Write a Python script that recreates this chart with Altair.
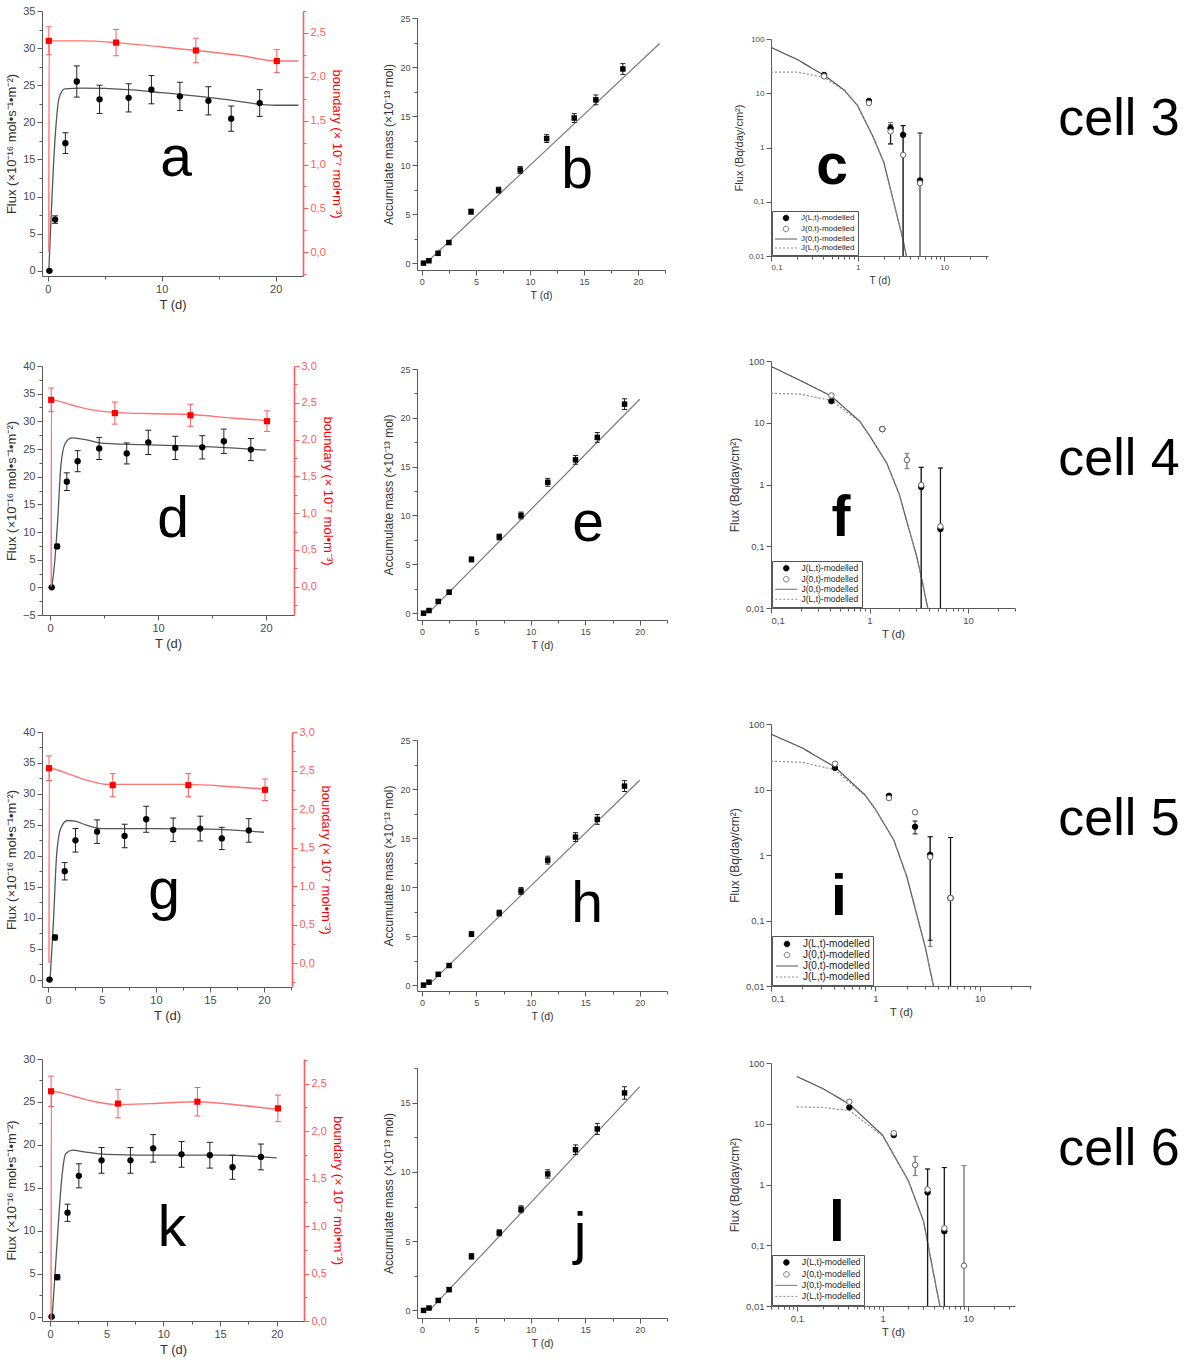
import json
import altair as alt
import pandas as pd

SANS = "Liberation Sans"

INK = "#000000"
AXIS_GREY = "#5a5a5a"
LABEL_GREY = "#4a4a4a"
TITLE_GREY = "#333333"
FIT_GREY = "#555555"
MASS_LINE = "#7a7a7a"
RED = "#ff0000"
RED_FIT = "#ff7373"
RED_AXIS = "#ff5c5c"

# ---------------- sampling times (d) ----------------
t_flux = [0.15, 0.65, 1.55, 2.55, 4.55, 7.1, 9.1, 11.6, 14.1, 16.1, 18.6]
t_bnd = [0.1, 6.0, 13.0, 20.1]
t_mass = [0.15, 0.65, 1.5, 2.5, 4.55, 7.1, 9.1, 11.55, 14.1, 16.1, 18.6]
t_log = [0.41, 1.35, 2.4, 3.35, 5.25]
t_log6 = [0.41, 1.35, 2.4, 3.35, 5.25, 8.9]

# ---------------- cell 3 ----------------
flux3 = [0, 6.9, 17.2, 25.5, 23.1, 23.3, 24.4, 23.5, 22.9, 20.5, 22.6]
flux3_err = [0, 0.5, 1.4, 2.1, 1.9, 1.9, 1.9, 1.9, 1.9, 1.7, 1.8]
fit3_t = [0.1, 0.25, 0.5, 0.7, 1.0, 1.5, 3, 7, 10, 15, 20, 22]
fit3 = [0, 5.5, 14, 19, 23.3, 24.5, 24.6, 24.4, 24.0, 23.2, 22.3, 22.3]
bnd3 = [2.41, 2.39, 2.30, 2.18]
bnd3_err = [0.16, 0.15, 0.14, 0.13]
bfit3_t = [0.1, 0.12, 3, 6, 10, 13, 17, 20, 22]
bfit3 = [0.0, 2.41, 2.41, 2.39, 2.34, 2.30, 2.24, 2.18, 2.18]
mass3 = [0, 0.24, 1.0, 2.1, 5.25, 7.45, 9.5, 12.7, 14.8, 16.65, 19.8]
mass3_err = [0.1, 0.1, 0.2, 0.2, 0.25, 0.3, 0.35, 0.4, 0.45, 0.5, 0.55]
mline3_t = [0.6, 22.0]
mline3 = [0.23, 22.4]
jl3 = [21.7, 7.2, 2.27, 1.71, 0.247]
jl3_hi = [None, None, 2.6, 2.55, 1.85]
jl3_lo = [None, None, 1.17, 0.001, 0.001]
j03 = [20.5, 6.6, 1.97, 0.73, 0.22]
j03_hi = [None, None, 2.9, 2.5, None]
j03_lo = [None, None, 1.15, 0.001, None]
mod3_t = [0.1, 0.2, 0.41, 0.7, 1.0, 1.5, 2.0, 3.0, 3.3, 3.65]
j0mod3 = [70, 42, 21.5, 11.5, 5.9, 1.6, 0.54, 0.04, 0.022, 0.01]
jlmod3 = [24.5, 24.5, 19.7, 11.2, 5.9, 1.6, 0.54, 0.04, 0.022, 0.01]

# ---------------- cell 4 ----------------
flux4 = [0, 7.4, 19.1, 22.8, 25.1, 24.2, 26.2, 25.2, 25.3, 26.4, 24.9]
flux4_err = [0, 0.4, 1.6, 1.9, 2.0, 1.9, 2.2, 2.1, 2.1, 2.2, 2.0]
fit4_t = [0.15, 0.4, 0.7, 1.0, 1.4, 2.0, 3, 5, 10, 15, 20]
fit4 = [0, 4, 12, 22, 26, 27, 26.8, 26, 25.7, 25.4, 24.8]
bnd4 = [2.54, 2.36, 2.33, 2.25]
bnd4_err = [0.16, 0.15, 0.15, 0.14]
bfit4_t = [0.1, 0.12, 2, 4, 6, 10, 13, 17, 20]
bfit4 = [0.0, 2.54, 2.47, 2.40, 2.37, 2.35, 2.34, 2.29, 2.26]
mass4 = [0, 0.27, 1.2, 2.15, 5.5, 7.8, 10.0, 13.4, 15.7, 18.0, 21.4]
mass4_err = [0.1, 0.1, 0.2, 0.2, 0.25, 0.3, 0.35, 0.4, 0.45, 0.5, 0.55]
mline4_t = [0.6, 20.0]
mline4 = [0.0, 21.9]
jl4 = [22.4, 7.9, None, 0.91, 0.19]
jl4_hi = [None, None, None, 1.9, 1.85]
jl4_lo = [None, None, None, 0.001, 0.001]
j04 = [27.7, 7.9, 2.5, 0.98, 0.21]
j04_hi = [None, None, 3.2, 1.9, 1.85]
j04_lo = [None, None, 1.8, 0.001, 0.001]
mod4_t = [0.1, 0.2, 0.41, 0.8, 1.0, 1.5, 2.0, 3.0, 3.3, 3.9]
j0mod4 = [82, 48, 27, 10.5, 6.2, 2.2, 0.7, 0.07, 0.036, 0.01]
jlmod4 = [30, 29, 23, 10.3, 6.2, 2.2, 0.7, 0.07, 0.036, 0.01]

# ---------------- cell 5 ----------------
flux5 = [0, 6.8, 17.5, 22.5, 23.9, 23.2, 25.9, 24.2, 24.4, 22.8, 24.1]
flux5_err = [0, 0.4, 1.4, 1.9, 1.9, 1.9, 2.1, 1.9, 2.0, 1.8, 1.9]
fit5_t = [0.2, 0.5, 0.8, 1.2, 1.8, 2.5, 3.5, 5, 10, 15, 20]
fit5 = [0, 9, 20, 24.5, 25.7, 25.6, 25, 24.4, 24.4, 24.3, 23.8]
bnd5 = [2.53, 2.31, 2.31, 2.25]
bnd5_err = [0.16, 0.15, 0.15, 0.14]
bfit5_t = [0.1, 0.12, 2, 4, 5.5, 8, 13, 17, 20]
bfit5 = [0.0, 2.53, 2.45, 2.36, 2.32, 2.32, 2.32, 2.29, 2.26]
mass5 = [0, 0.3, 1.1, 2.0, 5.2, 7.35, 9.6, 12.75, 15.1, 16.9, 20.3]
mass5_err = [0.1, 0.1, 0.2, 0.2, 0.25, 0.3, 0.35, 0.4, 0.45, 0.5, 0.55]
mline5_t = [0.6, 20.0]
mline5 = [0.0, 20.9]
jl5 = [21.4, 8.0, 2.7, 1.01, 0.22]
jl5_hi = [None, None, 3.3, 1.9, 1.85]
jl5_lo = [None, None, 2.1, 0.05, 0.001]
j05 = [24.7, 7.4, 4.5, 0.93, 0.22]
j05_hi = [None, None, None, 1.9, 1.85]
j05_lo = [None, None, None, 0.04, 0.001]
mod5_t = [0.1, 0.2, 0.41, 0.8, 1.0, 1.5, 2.0, 3.0, 3.6]
j0mod5 = [70, 43, 22, 8.2, 5.0, 1.7, 0.47, 0.04, 0.01]
jlmod5 = [27, 26, 20, 8.0, 5.0, 1.7, 0.47, 0.04, 0.01]

# ---------------- cell 6 ----------------
flux6 = [0, 4.6, 12.1, 16.4, 18.2, 18.2, 19.6, 18.9, 18.8, 17.4, 18.6]
flux6_err = [0, 0.3, 1.0, 1.4, 1.5, 1.5, 1.6, 1.5, 1.5, 1.4, 1.5]
fit6_t = [0.2, 0.45, 0.7, 1.0, 1.4, 2.0, 3, 5, 10, 15, 20]
fit6 = [0, 5, 10, 15.5, 19, 19.4, 19.2, 18.9, 18.8, 18.8, 18.5]
bnd6 = [2.42, 2.29, 2.31, 2.24]
bnd6_err = [0.16, 0.15, 0.15, 0.14]
bfit6_t = [0.1, 0.12, 2, 4, 6, 9, 13, 17, 20]
bfit6 = [0.0, 2.42, 2.37, 2.31, 2.28, 2.29, 2.31, 2.27, 2.23]
mass6 = [0, 0.17, 0.72, 1.5, 3.9, 5.6, 7.3, 9.85, 11.6, 13.1, 15.7]
mass6_err = [0.08, 0.08, 0.12, 0.15, 0.2, 0.22, 0.25, 0.3, 0.35, 0.4, 0.45]
mline6_t = [0.7, 20.0]
mline6 = [0.0, 16.15]
jl6 = [18.6, 6.5, None, 0.74, 0.17, None]
jl6_hi = [None, None, None, 1.8, 1.9, None]
jl6_lo = [None, None, None, 0.001, 0.001, None]
j06 = [23.0, 7.0, 2.1, 0.83, 0.19, 0.046]
j06_hi = [None, None, 2.9, 1.8, 1.9, 2.05]
j06_lo = [None, None, 1.4, 0.001, 0.001, 0.001]
mod6_t = [0.1, 0.2, 0.41, 1.0, 2.0, 3.0, 3.4, 4.0, 4.66]
j0mod6 = [60, 38, 21, 6.5, 1.15, 0.25, 0.1, 0.03, 0.01]
jlmod6 = [19, 18.5, 16.5, 6.3, 1.15, 0.25, 0.1, 0.03, 0.01]

cells = ["cell 3", "cell 4", "cell 5", "cell 6"]

SERIES = ["J(L,t) data", "J(0,t) data", "J(0,t) model", "J(L,t) model"]
LEGEND_LABEL = "replace(replace(datum.label, ' data', '-modelled'), ' model', '-modelled')"
COMMA = "replace(toString(datum.value), '.', ',')"
COMMA1 = "replace(format(datum.value, '.1f'), '.', ',')"
OWN = dict(fill="independent", stroke="independent", shape="independent",
           strokeDash="independent")

LOG_MAJOR = [0.01, 0.1, 1, 10, 100]
LOG_MINOR = [round(m * 10 ** p, 4) for p in (-2, -1, 0, 1) for m in range(2, 10)]


def axis_style(lab, tit, **extra):
    sty = dict(grid=False, labelFont=SANS, titleFont=SANS, labelFontSize=lab, titleFontSize=tit,
               labelColor=LABEL_GREY, titleColor=TITLE_GREY, titleFontWeight="normal",
               domainColor=AXIS_GREY, tickColor=AXIS_GREY, labelPadding=2, titlePadding=4,
               labelOverlap=False)
    sty.update(extra)
    return sty


def mids(major, dom):
    """Minor tick positions halfway between (and just beyond) the labelled ticks."""
    step = major[1] - major[0]
    cand = [major[0] - step / 2] + [m + step / 2 for m in major]
    return [v for v in cand if min(dom) <= v <= max(dom)]


def tick_axis(major, minor, sty, label="datum.label", **kw):
    test = f"indexof({json.dumps(major)}, datum.value) >= 0"
    return alt.Axis(values=sorted(major + minor), labelExpr=f"{test} ? {label} : ''",
                    tickSize={"condition": {"test": test, "value": 5}, "value": 3},
                    **sty, **kw)


def letter_layer(letter, lx, ly, bold=False):
    return alt.Chart(pd.DataFrame({"letter": [letter]})).mark_text(
        font=SANS, fontSize=57, fontWeight="bold" if bold else "normal",
        align="center", baseline="alphabetic", color=INK,
    ).encode(text="letter:N", x=alt.value(lx), y=alt.value(ly))


def error_layers(df, X, Y, color, cap=6, width=1.0):
    rule = alt.Chart(df).mark_rule(color=color, strokeWidth=width, clip=True).encode(
        x=X, y=Y("lo"), y2=alt.Y2("hi:Q"))
    lo = alt.Chart(df).mark_tick(color=color, orient="horizontal", size=cap, thickness=1,
                                 opacity=1, clip=True).encode(x=X, y=Y("lo"))
    hi = alt.Chart(df).mark_tick(color=color, orient="horizontal", size=cap, thickness=1,
                                 opacity=1, clip=True).encode(x=X, y=Y("hi"))
    return [rule, lo, hi]


def flux_panel(flux, ferr, fit_t, fit, bnd, berr, bfit_t, bfit, xdom, xvals, ydom, yvals,
               rdom, rvals, w, h, letter, lx, ly):
    sty = axis_style(11, 13)
    X = alt.X("t:Q", scale=alt.Scale(domain=xdom, nice=False, zero=False),
              axis=tick_axis(xvals, mids(xvals, xdom), sty, title="T (d)"))
    lscale = alt.Scale(domain=ydom, nice=False, zero=False)
    laxis = tick_axis(yvals, mids(yvals, ydom), sty, title="Flux (×10⁻¹⁶ mol•s⁻¹•m⁻²)")

    def YL(f):
        return alt.Y(f"{f}:Q", scale=lscale, axis=laxis)

    rscale = alt.Scale(domain=rdom, nice=False, zero=False)
    raxis = tick_axis(rvals, mids(rvals, rdom),
                      axis_style(11, 13, labelColor=RED_AXIS, titleColor=RED,
                                 domainColor=RED_AXIS, tickColor=RED_AXIS, domainWidth=1.6),
                      label=COMMA1, orient="right", title="boundary (× 10⁻⁷ mol•m⁻³)")

    def YR(f):
        return alt.Y(f"{f}:Q", scale=rscale, axis=raxis)

    pts = pd.DataFrame({"t": t_flux, "v": flux,
                        "lo": [v - e for v, e in zip(flux, ferr)],
                        "hi": [v + e for v, e in zip(flux, ferr)]})
    fitdf = pd.DataFrame({"t": fit_t, "v": fit})
    rpts = pd.DataFrame({"t": t_bnd, "v": bnd,
                         "lo": [v - e for v, e in zip(bnd, berr)],
                         "hi": [v + e for v, e in zip(bnd, berr)]})
    rfitdf = pd.DataFrame({"t": bfit_t, "v": bfit})

    black = alt.layer(
        alt.Chart(fitdf).mark_line(color=FIT_GREY, strokeWidth=1.3, interpolate="monotone").encode(
            x=X, y=YL("v")),
        *error_layers(pts, X, YL, "#222222"),
        alt.Chart(pts).mark_point(filled=True, shape="circle", size=40, color=INK, opacity=1).encode(
            x=X, y=YL("v")),
    )
    red = alt.layer(
        alt.Chart(rfitdf).mark_line(color=RED_FIT, strokeWidth=1.4, interpolate="monotone").encode(
            x=X, y=YR("v")),
        *error_layers(rpts, X, YR, RED_AXIS),
        alt.Chart(rpts).mark_square(size=38, color=RED, opacity=1).encode(x=X, y=YR("v")),
    )
    return alt.layer(black, red, letter_layer(letter, lx, ly)).resolve_scale(
        y="independent").properties(width=w, height=h)


def mass_panel(mass, merr, line_t, line_v, ydom, yvals, w, h, letter, lx, ly):
    xdom = [-0.45, 22.5]
    xvals = [0, 5, 10, 15, 20]
    X = alt.X("t:Q", scale=alt.Scale(domain=xdom, nice=False, zero=False),
              axis=tick_axis(xvals, mids(xvals, xdom), axis_style(9, 10.5), title="T (d)"))
    ys = alt.Scale(domain=ydom, nice=False, zero=False)
    ya = tick_axis(yvals, mids(yvals, ydom), axis_style(9, 12),
                   title="Accumulate mass (×10⁻¹³ mol)")

    def Y(f):
        return alt.Y(f"{f}:Q", scale=ys, axis=ya)

    pts = pd.DataFrame({"t": t_mass, "v": mass,
                        "lo": [v - e for v, e in zip(mass, merr)],
                        "hi": [v + e for v, e in zip(mass, merr)]})
    line = pd.DataFrame({"t": line_t, "v": line_v})
    return alt.layer(
        alt.Chart(line).mark_line(color=MASS_LINE, strokeWidth=1.2).encode(x=X, y=Y("v")),
        *error_layers(pts, X, Y, "#222222", cap=5),
        alt.Chart(pts).mark_square(size=30, color=INK, opacity=1).encode(x=X, y=Y("v")),
        letter_layer(letter, lx, ly),
    ).properties(width=w, height=h)


def log_panel(t, jl, jl_hi, jl_lo, j0, j0_hi, j0_lo, mod_t, j0mod, jlmod, xdom, w, h,
              lab, tit, leg, letter, lx, ly):
    xmajor = [v for v in LOG_MAJOR if xdom[0] <= v <= xdom[1]]
    xminor = [v for v in LOG_MINOR if xdom[0] <= v <= xdom[1]]
    X = alt.X("t:Q", scale=alt.Scale(type="log", domain=xdom, nice=False),
              axis=tick_axis(xmajor, xminor, axis_style(lab, tit - 1), label=COMMA,
                             title="T (d)"))
    ys = alt.Scale(type="log", domain=[0.01, 100], nice=False)
    ya = alt.Axis(values=LOG_MAJOR, title="Flux (Bq/day/cm²)", labelExpr=COMMA, tickSize=5,
                  **axis_style(lab, tit))

    def Y(f):
        return alt.Y(f"{f}:Q", scale=ys, axis=ya)

    legend = alt.Legend(title=None, orient="bottom-left", offset=1, fillColor="white",
                        strokeColor="#555555", padding=3, labelFont=SANS, labelFontSize=leg,
                        labelColor="#222222", rowPadding=1, symbolStrokeWidth=1,
                        symbolSize=30, symbolOffset=7, labelOffset=11,
                        labelExpr=LEGEND_LABEL)
    fill = alt.Fill("series:N", legend=legend, scale=alt.Scale(
        domain=SERIES, range=["#000000", "#ffffff", "transparent", "transparent"]))
    stroke = alt.Stroke("series:N", legend=legend, scale=alt.Scale(
        domain=SERIES, range=["#000000", "#666666", "#555555", "#8a8a8a"]))
    shape = alt.Shape("series:N", legend=legend, scale=alt.Scale(
        domain=SERIES, range=["circle", "circle", "M-4,0L4,0", "M-4,0L4,0"]))
    dash = alt.StrokeDash("series:N", legend=legend, scale=alt.Scale(
        domain=SERIES, range=[[1, 0], [1, 0], [1, 0], [2, 2]]))

    pts = [{"t": a, "v": v, "series": SERIES[0]} for a, v in zip(t, jl) if v is not None]
    pts += [{"t": a, "v": v, "series": SERIES[1]} for a, v in zip(t, j0) if v is not None]
    eL = pd.DataFrame([{"t": a, "lo": lo, "hi": hi} for a, hi, lo in zip(t, jl_hi, jl_lo)
                       if hi is not None])
    e0 = pd.DataFrame([{"t": a, "lo": lo, "hi": hi} for a, hi, lo in zip(t, j0_hi, j0_lo)
                       if hi is not None])
    mods = [{"t": a, "v": v, "series": SERIES[2]} for a, v in zip(mod_t, j0mod)]
    mods += [{"t": a, "v": v, "series": SERIES[3]} for a, v in zip(mod_t, jlmod)]

    layers = [
        alt.Chart(pd.DataFrame(mods)).mark_line(strokeWidth=1.2, clip=True).encode(
            x=X, y=Y("v"), stroke=stroke, strokeDash=dash),
    ]
    layers += error_layers(e0, X, Y, "#7a7a7a", cap=5, width=1.4)
    layers += error_layers(eL, X, Y, "#111111", cap=5, width=1.0)
    layers += [
        alt.Chart(pd.DataFrame(pts)).mark_point(filled=True, size=30, strokeWidth=1, opacity=1).encode(
            x=X, y=Y("v"), fill=fill, stroke=stroke, shape=shape),
        letter_layer(letter, lx, ly, bold=True),
    ]
    return alt.layer(*layers).properties(width=w, height=h)


def spacer(h):
    return alt.Chart(pd.DataFrame({"z": [0]})).mark_point(opacity=0, size=1).encode(
        x=alt.value(0), y=alt.value(0)).properties(width=1, height=h)


def stack(panels, gaps, top=0):
    col = panels[0]
    for p, g in zip(panels[1:], gaps):
        col = alt.vconcat(col, p, spacing=g).resolve_scale(**OWN)
    if top:
        col = alt.vconcat(spacer(top), col, spacing=0).resolve_scale(**OWN)
    return col


steps5 = lambda a, b: list(range(a, b + 1, 5))
half = lambda n: [i * 0.5 for i in range(n + 1)]

a = flux_panel(flux3, flux3_err, fit3_t, fit3, bnd3, bnd3_err, bfit3_t, bfit3,
               [-0.5, 22.4], [0, 10, 20], [-0.7, 35], steps5(0, 35), [-0.27, 2.75], half(5),
               261, 265, "a", 134, 165)
d = flux_panel(flux4, flux4_err, fit4_t, fit4, bnd4, bnd4_err, bfit4_t, bfit4,
               [-0.75, 22.6], [0, 10, 20], [-5, 40], steps5(-5, 40), [-0.385, 3.0], half(6),
               252, 249, "d", 131, 171)
g = flux_panel(flux5, flux5_err, fit5_t, fit5, bnd5, bnd5_err, bfit5_t, bfit5,
               [-0.55, 22.6], steps5(0, 20), [-1.2, 40], steps5(0, 40), [-0.31, 3.0], half(6),
               250, 255, "g", 122, 177)
k = flux_panel(flux6, flux6_err, fit6_t, fit6, bnd6, bnd6_err, bfit6_t, bfit6,
               [-0.7, 22.4], steps5(0, 20), [-0.5, 30], steps5(0, 30), [0, 2.76], half(5),
               262, 262, "k", 130, 187)

b = mass_panel(mass3, mass3_err, mline3_t, mline3, [-0.7, 25], steps5(0, 25), 248, 252, "b", 160, 170)
e = mass_panel(mass4, mass4_err, mline4_t, mline4, [-0.7, 25], steps5(0, 25), 250, 251, "e", 171, 172)
h = mass_panel(mass5, mass5_err, mline5_t, mline5, [-0.6, 25], steps5(0, 25), 250, 251, "h", 170, 182)
j = mass_panel(mass6, mass6_err, mline6_t, mline6, [-0.55, 17.5], steps5(0, 15), 250, 250, "j", 163, 185)

c = log_panel(t_log, jl3, jl3_hi, jl3_lo, j03, j03_hi, j03_lo, mod3_t, j0mod3, jlmod3,
              [0.1, 32], 217, 217, 8, 11, 8, "c", 61, 145)
f = log_panel(t_log, jl4, jl4_hi, jl4_lo, j04, j04_hi, j04_lo, mod4_t, j0mod4, jlmod4,
              [0.1, 30], 244, 247, 9.5, 12, 8.5, "f", 70, 175)
i = log_panel(t_log, jl5, jl5_hi, jl5_lo, j05, j05_hi, j05_lo, mod5_t, j0mod5, jlmod5,
              [0.1, 31], 260, 262, 9.5, 12, 10, "i", 68, 191)
l = log_panel(t_log6, jl6, jl6_hi, jl6_lo, j06, j06_hi, j06_lo, mod6_t, j0mod6, jlmod6,
              [0.05, 35], 244, 243, 9.5, 12, 8.8, "l", 66, 178)

labels = alt.layer(*[
    alt.Chart(pd.DataFrame({"cell": [name]})).mark_text(
        font=SANS, fontSize=52, align="center", baseline="alphabetic", color=INK
    ).encode(text="cell:N", x=alt.value(74), y=alt.value(yy))
    for name, yy in zip(cells, [124, 464, 824, 1154])
]).properties(width=140, height=1300)

col1 = stack([a, d, g, k], [49, 76, 31])
col2 = stack([b, e, h, j], [64, 85, 42], top=3)
col3 = stack([c, f, i, l], [71, 79, 40], top=24)

chart = alt.hconcat(
    alt.hconcat(
        alt.hconcat(col1, col2, spacing=38).resolve_scale(**OWN),
        col3, spacing=60).resolve_scale(**OWN),
    labels, spacing=14,
).resolve_scale(**OWN).configure_view(stroke=None).properties(background="white")

chart.save("out.html", embed_options={"renderer": "svg", "actions": False})
